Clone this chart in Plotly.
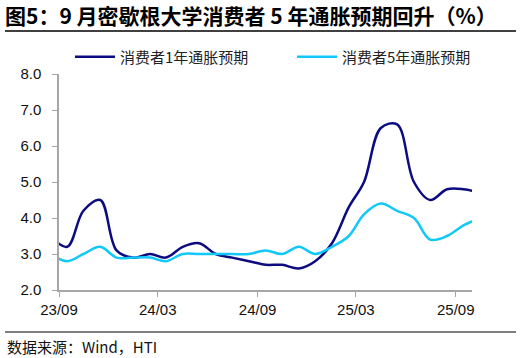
import plotly.graph_objects as go

# Monthly data (mid-month), Aug 2023 .. Oct 2025
months = ["2023-08", "2023-09", "2023-10", "2023-11", "2023-12",
          "2024-01", "2024-02", "2024-03", "2024-04", "2024-05", "2024-06",
          "2024-07", "2024-08", "2024-09", "2024-10", "2024-11", "2024-12",
          "2025-01", "2025-02", "2025-03", "2025-04", "2025-05", "2025-06",
          "2025-07", "2025-08", "2025-09", "2025-10"]
exp_1y = [3.5, 3.2, 4.2, 4.5, 3.1,
          2.9, 3.0, 2.9, 3.2, 3.3, 3.0,
          2.9, 2.8, 2.7, 2.7, 2.6, 2.8,
          3.3, 4.3, 5.0, 6.5, 6.6, 5.0,
          4.5, 4.8, 4.8, 4.7]
exp_5y = [3.0, 2.8, 3.0, 3.2, 2.9,
          2.9, 2.9, 2.8, 3.0, 3.0, 3.0,
          3.0, 3.0, 3.1, 3.0, 3.2, 3.0,
          3.2, 3.5, 4.1, 4.4, 4.2, 4.0,
          3.4, 3.5, 3.8, 4.0]
tick_vals = ["2023-09-01", "2024-03-01", "2024-09-01", "2025-03-01", "2025-09-01"]
tick_text = ["23/09", "24/03", "24/09", "25/03", "25/09"]
y_ticks = [2.0, 3.0, 4.0, 5.0, 6.0, 7.0, 8.0]

dates = [m + "-16" for m in months]

W, H = 532, 358
L, R, T, B = 59, 60, 74, 68
pw, ph = W - L - R, H - T - B

def px_x(p):
    return (p - L) / pw

def px_y(p):
    return (H - B - p) / ph

fig = go.Figure()
fig.add_trace(go.Scatter(x=dates, y=exp_1y, mode="lines", name="消费者1年通胀预期",
                         legend="legend",
                         line=dict(color="#0C0C80", width=2.5, shape="spline", smoothing=1.0)))
fig.add_trace(go.Scatter(x=dates, y=exp_5y, mode="lines", name="消费者5年通胀预期",
                         legend="legend2",
                         line=dict(color="#12C8F8", width=2.5, shape="spline", smoothing=1.0)))

axis_col = "#A6A6A6"
leg_font = dict(family="Noto Sans CJK SC", size=15, color="#222222")
fig.update_layout(
    width=W, height=H,
    margin=dict(l=L, r=R, t=T, b=B, pad=0, autoexpand=False),
    paper_bgcolor="white", plot_bgcolor="white",
    font=dict(family="Liberation Sans, Arial, sans-serif", color="#111111", size=15),
    title=dict(text="<b>图5：9 月密歇根大学消费者 5 年通胀预期回升（%）</b>",
               x=5 / W, xref="container", xanchor="left",
               y=1 - 17 / H, yref="container", yanchor="middle",
               font=dict(family="Noto Sans CJK SC", size=21, color="#000000")),
    xaxis=dict(type="date", range=["2023-09-01", "2025-10-01"],
               tickvals=tick_vals, ticktext=tick_text,
               showgrid=False, zeroline=False,
               showline=True, linecolor=axis_col, linewidth=1.5,
               ticks="outside", ticklen=5, tickcolor=axis_col, tickwidth=1,
               tickfont=dict(size=15)),
    yaxis=dict(range=[2.0, 8.0], tickvals=y_ticks, tickformat=".1f",
               showgrid=False, zeroline=False,
               showline=True, linecolor=axis_col, linewidth=1.5,
               ticks="outside", ticklen=5, tickcolor=axis_col, tickwidth=1,
               tickfont=dict(size=15), ticklabelstandoff=8),
    legend=dict(orientation="h", x=px_x(70), xanchor="left",
                y=px_y(57), yanchor="middle",
                font=leg_font, bgcolor="rgba(0,0,0,0)", itemwidth=40),
    legend2=dict(orientation="h", x=px_x(292), xanchor="left",
                 y=px_y(57), yanchor="middle",
                 font=leg_font, bgcolor="rgba(0,0,0,0)", itemwidth=40),
    showlegend=True,
)

# rules under title and above source
fig.add_shape(type="line", xref="paper", yref="paper",
              x0=px_x(5), x1=px_x(516), y0=px_y(31), y1=px_y(31),
              line=dict(color="#000000", width=1.5))
fig.add_shape(type="line", xref="paper", yref="paper",
              x0=px_x(5), x1=px_x(516), y0=px_y(332), y1=px_y(332),
              line=dict(color="#000000", width=1.2))
fig.add_annotation(text="数据来源：Wind，HTI", xref="paper", yref="paper",
                   x=px_x(5), y=px_y(346), xanchor="left", yanchor="middle",
                   showarrow=False,
                   font=dict(family="Noto Sans CJK SC", size=15, color="#111111"))

fig.write_html("out.html")
